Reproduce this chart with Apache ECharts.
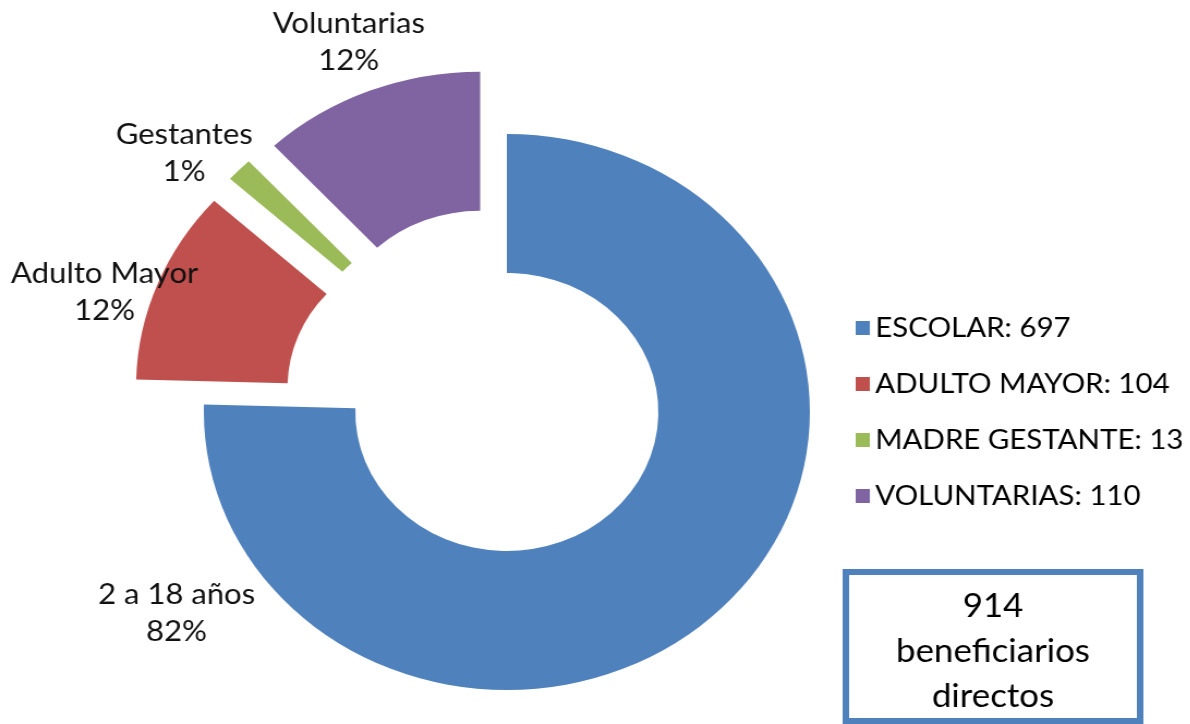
<!DOCTYPE html>
<html>
<head>
<meta charset="utf-8">
<script src="https://cdn.jsdelivr.net/npm/echarts@6/dist/echarts.min.js"></script>
<style>
  html, body { margin: 0; padding: 0; background: #fff; overflow: hidden; }
  /* la imagen original esta estirada en horizontal */
  #chart { width: 1092px; height: 724px; transform: scaleX(1.09); transform-origin: 0 0; }
</style>
</head>
<body>
<div id="chart"></div>
<script>
  // datos
  var categories = ['ESCOLAR', 'ADULTO MAYOR', 'MADRE GESTANTE', 'VOLUNTARIAS']
  var values = [697, 104, 13, 110]
  var labelNames = ['2 a 18 años', 'Adulto Mayor', 'Gestantes', 'Voluntarias']
  var labelPercents = ['82%', '12%', '1%', '12%']
  var totalText = ['914', 'beneficiarios', 'directos']

  var colors = ['#4f81bd', '#c0504d', '#9bbb59', '#8064a2']
  // posicion de cada etiqueta (movidas a mano en el original)
  var labelPos = [[162, 613], [96, 292], [169, 153], [320, 42]]

  var pieCenter = [465, 412]
  var pieRadius = [139, 278]

  var chart = echarts.init(document.getElementById('chart'))
  chart.setOption({
    animation: false,
    color: colors,
    legend: {
      orient: 'vertical',
      left: 780,
      top: 308,
      icon: 'rect',
      itemWidth: 13,
      itemHeight: 14,
      itemGap: 26,
      selectedMode: false,
      data: categories,
      formatter: function (name) {
        return name + ': ' + values[categories.indexOf(name)]
      },
      textStyle: {
        fontFamily: 'Lato',
        fontSize: 27,
        lineHeight: 30,
        color: '#000'
      }
    },
    series: [{
      // anillo con las porciones separadas
      type: 'pie',
      center: pieCenter,
      radius: pieRadius,
      startAngle: 90,
      clockwise: true,
      selectedMode: 'multiple',
      selectedOffset: 67,
      emphasis: { disabled: true },
      label: { show: false },
      labelLine: { show: false },
      data: categories.map(function (name, i) {
        return { name: name, value: values[i], selected: i > 0 }
      })
    }, {
      // solo las etiquetas
      type: 'pie',
      silent: true,
      center: pieCenter,
      radius: pieRadius,
      startAngle: 90,
      clockwise: true,
      avoidLabelOverlap: false,
      emphasis: { disabled: true },
      itemStyle: { color: 'rgba(0,0,0,0)' },
      label: {
        show: true,
        position: 'outside',
        fontFamily: 'Lato',
        fontSize: 28.5,
        lineHeight: 37,
        color: '#111',
        formatter: function (p) {
          return labelNames[p.dataIndex] + '\n' + labelPercents[p.dataIndex]
        }
      },
      labelLine: { show: false },
      labelLayout: function (p) {
        var pos = labelPos[p.dataIndex]
        return { x: pos[0], y: pos[1], align: 'center', verticalAlign: 'middle' }
      },
      data: categories.map(function (name, i) {
        return { name: name, value: values[i] }
      })
    }],
    graphic: [{
      type: 'group',
      children: [{
        type: 'rect',
        shape: { x: 776, y: 572, width: 270, height: 149 },
        style: { fill: '#fff', stroke: '#4f81bd', lineWidth: 6 }
      }, {
        type: 'text',
        x: 911,
        y: 652,
        style: {
          text: totalText.join('\n'),
          fontFamily: 'Lato',
          fontSize: 32,
          lineHeight: 45,
          fill: '#000',
          align: 'center',
          verticalAlign: 'middle'
        }
      }]
    }]
  })
</script>
</body>
</html>
